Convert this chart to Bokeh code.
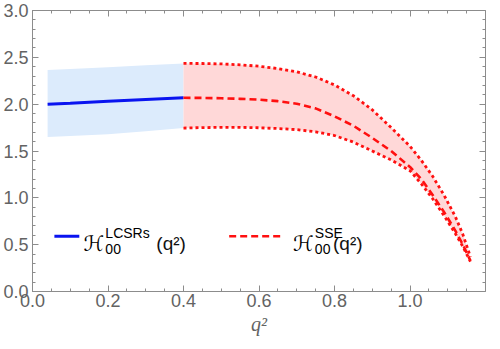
from bokeh.plotting import figure
from bokeh.models import Range1d, LinearAxis, SingleIntervalTicker, PrintfTickFormatter
from bokeh.core.properties import value
from bokeh.embed import file_html
from bokeh.resources import INLINE

# ---- data ----
q_lcsr = [0.04, 0.10, 0.20, 0.30, 0.40]
h_lcsr = [2.00, 2.01, 2.03, 2.05, 2.068]
h_lcsr_lo = [1.65, 1.66, 1.68, 1.71, 1.745]
h_lcsr_hi = [2.365, 2.375, 2.395, 2.415, 2.435]

q_sse = [0.40, 0.45, 0.50, 0.55, 0.60, 0.65, 0.70, 0.75, 0.80, 0.85, 0.90, 0.95,
         1.00, 1.03, 1.06, 1.09, 1.12, 1.14, 1.16]
h_sse = [2.068, 2.067, 2.063, 2.057, 2.048, 2.032, 2.005, 1.955, 1.87, 1.77, 1.64, 1.50,
         1.33, 1.20, 1.03, 0.85, 0.65, 0.50, 0.33]
h_sse_hi = [2.435, 2.434, 2.43, 2.42, 2.405, 2.38, 2.345, 2.29, 2.205, 2.09, 1.94, 1.75,
            1.55, 1.40, 1.23, 1.03, 0.80, 0.61, 0.37]
h_sse_lo = [1.745, 1.75, 1.752, 1.752, 1.748, 1.74, 1.728, 1.705, 1.665, 1.595, 1.50, 1.405,
            1.29, 1.15, 0.99, 0.81, 0.62, 0.48, 0.32]

x_ticks_interval = 0.2
y_ticks_interval = 0.5
x_label = "q\u00b2"
legend_lcsr = ["\u210b", "00", "LCSRs", "(q\u00b2)"]
legend_sse = ["\u210b", "00", "SSE", "(q\u00b2)"]

BLUE = "#0a14f0"
RED = "#ff1010"
AX = "#8c8c8c"
LBL = "#636363"

p = figure(width=500, height=349, x_range=Range1d(0, 1.2), y_range=Range1d(0, 3),
           output_backend="svg", toolbar_location=None,
           min_border_left=31, min_border_right=15, min_border_top=10, min_border_bottom=58)
p.outline_line_color = None
p.grid.visible = False
p.background_fill_color = "white"
p.border_fill_color = "white"

# bands
p.varea(x=q_lcsr, y1=h_lcsr_lo, y2=h_lcsr_hi, fill_color="#dcebfc")
p.varea(x=q_sse, y1=h_sse_lo, y2=h_sse_hi, fill_color="#ffd8d8")

# lines
p.line(q_lcsr, h_lcsr, line_color=BLUE, line_width=3)
p.line(q_sse, h_sse, line_color=RED, line_width=2.6, line_dash="7 4")
p.line(q_sse, h_sse_hi, line_color=RED, line_width=2.8, line_dash="3 3")
p.line(q_sse, h_sse_lo, line_color=RED, line_width=2.8, line_dash="3 3")

# axes styling
def style_axis(ax, interval, nminor, labels=True, size="18px"):
    ax.ticker = SingleIntervalTicker(interval=interval, num_minor_ticks=nminor)
    ax.axis_line_color = AX
    ax.major_tick_line_color = AX
    ax.minor_tick_line_color = AX
    ax.major_tick_in = 6
    ax.major_tick_out = 0
    ax.minor_tick_in = 3
    ax.minor_tick_out = 0
    if labels:
        ax.formatter = PrintfTickFormatter(format="%.1f")
        ax.major_label_text_font = "Liberation Sans"
        ax.major_label_text_font_size = size
        ax.major_label_text_color = LBL
    else:
        ax.major_label_text_color = None
        ax.major_label_standoff = 0

style_axis(p.xaxis[0], x_ticks_interval, 4)
style_axis(p.yaxis[0], y_ticks_interval, 5)
p.xaxis[0].major_label_standoff = 2
p.yaxis[0].major_label_standoff = 4
p.xaxis[0].axis_label = x_label
p.xaxis[0].axis_label_text_font = "Liberation Serif"
p.xaxis[0].axis_label_text_font_style = "italic"
p.xaxis[0].axis_label_text_font_size = "20px"
p.xaxis[0].axis_label_text_color = LBL
p.xaxis[0].axis_label_standoff = 3

top = LinearAxis()
style_axis(top, x_ticks_interval, 4, labels=False)
p.add_layout(top, "above")
right = LinearAxis()
style_axis(right, y_ticks_interval, 5, labels=False)
p.add_layout(right, "right")

# legend (manual, to allow sub/superscripts)
p.line([0.058, 0.124], [0.59, 0.59], line_color=BLUE, line_width=3)
p.line([0.521, 0.658], [0.59, 0.59], line_color=RED, line_width=2.6, line_dash="7 4")

def legend_text(x0, parts, x_arg):
    sym, sub, sup, arg = parts
    p.text(x=[x0], y=[0.51], text=[sym], text_font=value("DejaVu Sans"),
           text_font_size="21px", text_color="black", text_baseline="alphabetic")
    p.text(x=[x0 + 0.058], y=[0.455], text=[sub], text_font=value("Liberation Sans"),
           text_font_size="14px", text_color="black", text_baseline="alphabetic")
    p.text(x=[x0 + 0.058], y=[0.62], text=[sup], text_font=value("Liberation Sans"),
           text_font_size="14px", text_color="black", text_baseline="alphabetic")
    p.text(x=[x_arg], y=[0.51], text=[arg], text_font=value("Liberation Sans"),
           text_font_size="19px", text_color="#111111", text_baseline="alphabetic")

legend_text(0.135, legend_lcsr, 0.328)
legend_text(0.690, legend_sse, 0.796)

open("out.html", "w").write(file_html(p, INLINE))
